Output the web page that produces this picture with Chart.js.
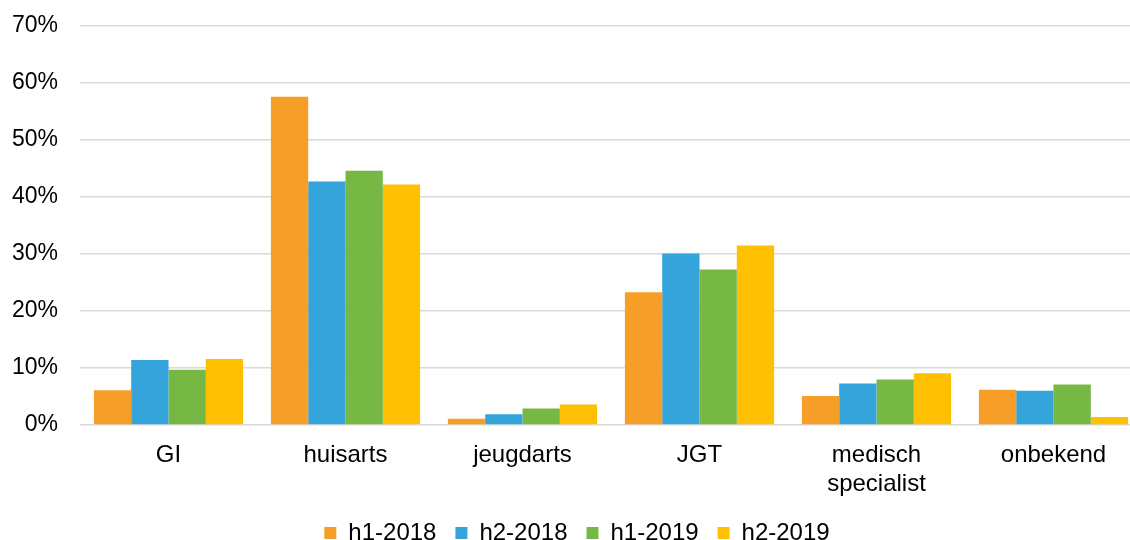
<!DOCTYPE html>
<html>
<head>
<meta charset="utf-8">
<title>Verwijzers per halfjaar</title>
<script src="https://cdn.jsdelivr.net/npm/chart.js@4"></script>
<style>
    html, body { margin: 0; padding: 0; background: #ffffff; overflow: hidden; }
    #wrap { width: 1130px; height: 540px; overflow: hidden; }
</style>
</head>
<body>
<div id="wrap"><canvas id="verwijzers-chart" width="1142" height="555"></canvas></div>
<script>
// Categories and series (fractions, shown as %)
const categories = ['GI', 'huisarts', 'jeugdarts', 'JGT', ['medisch', 'specialist'], 'onbekend'];
const seriesNames = ['h1-2018', 'h2-2018', 'h1-2019', 'h2-2019'];
const h1_2018 = [0.061, 0.576, 0.011, 0.233, 0.051, 0.062];
const h2_2018 = [0.114, 0.427, 0.019, 0.301, 0.073, 0.060];
const h1_2019 = [0.097, 0.446, 0.029, 0.273, 0.080, 0.071];
const h2_2019 = [0.116, 0.422, 0.036, 0.315, 0.091, 0.014];
const yTicks = [0, 0.1, 0.2, 0.3, 0.4, 0.5, 0.6, 0.7];

const colors = ['#F79E28', '#34A4DA', '#77B744', '#FEC000'];
const seriesValues = [h1_2018, h2_2018, h1_2019, h2_2019];

document.addEventListener('DOMContentLoaded', function() {
    initChart();
});

function initChart() {
    const ctx = document.getElementById('verwijzers-chart').getContext('2d');
    const family = 'Arial, "Liberation Sans", sans-serif';

    new Chart(ctx, {
        type: 'bar',
        data: {
            labels: categories,
            datasets: seriesNames.map((name, i) => ({
                label: name,
                data: seriesValues[i],
                backgroundColor: colors[i],
                borderWidth: 0,
                barPercentage: 1.0,
                categoryPercentage: 0.843
            }))
        },
        options: {
            responsive: false,
            animation: false,
            layout: {
                padding: { left: 12, right: 0, top: 26, bottom: 0 }
            },
            plugins: {
                tooltip: { enabled: false },
                legend: {
                    position: 'bottom',
                    labels: {
                        color: '#000000',
                        font: { family: family, size: 24 },
                        boxWidth: 12,
                        boxHeight: 12,
                        padding: 19
                    }
                }
            },
            scales: {
                x: {
                    grid: { display: false, drawTicks: false },
                    border: { display: false },
                    afterFit: function(axis) {
                        axis.height = 77;
                    },
                    ticks: {
                        color: '#000000',
                        font: { family: family, size: 24, lineHeight: 1.2 },
                        padding: 16,
                        maxRotation: 0,
                        autoSkip: false
                    }
                },
                y: {
                    min: 0,
                    max: 0.7,
                    afterBuildTicks: function(axis) {
                        axis.ticks = yTicks.map(v => ({ value: v }));
                    },
                    afterFit: function(axis) {
                        axis.width = 68;
                        axis.paddingTop = 14;
                    },
                    grid: {
                        color: '#D9D9D9',
                        lineWidth: 1.5,
                        drawTicks: false
                    },
                    border: { display: false },
                    ticks: {
                        color: '#000000',
                        font: { family: family, size: 23 },
                        padding: 22,
                        callback: function(value) {
                            return Math.round(value * 100) + '%';
                        }
                    }
                }
            }
        }
    });
}
</script>
</body>
</html>
